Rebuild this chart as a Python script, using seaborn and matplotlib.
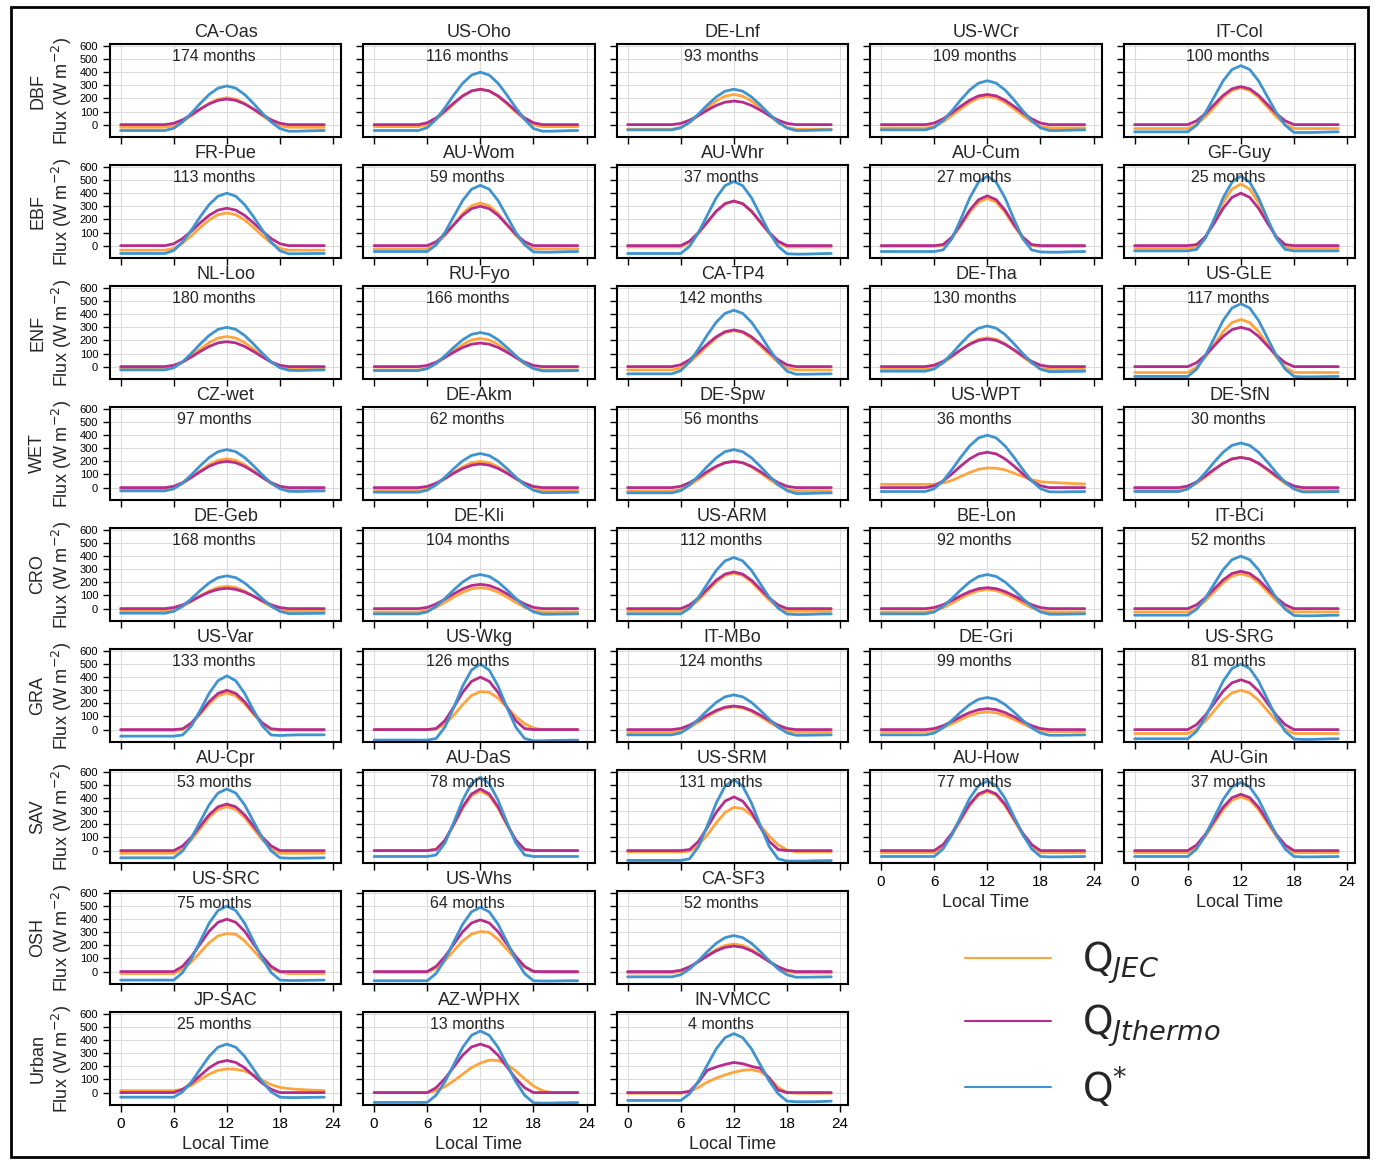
import matplotlib
matplotlib.use("Agg")
import matplotlib.pyplot as plt
import seaborn as sns
from matplotlib.lines import Line2D
from matplotlib.patches import Rectangle

sns.set_style("ticks")
plt.rcParams['font.family'] = ['Liberation Sans', 'DejaVu Sans']
plt.rcParams['mathtext.fontset'] = 'dejavusans'

# ---------------- data ----------------
hours = list(range(24))

classes = ["DBF", "EBF", "ENF", "WET", "CRO", "GRA", "SAV", "OSH", "Urban"]

sites = [
    ["CA-Oas", "US-Oho", "DE-Lnf", "US-WCr", "IT-Col"],
    ["FR-Pue", "AU-Wom", "AU-Whr", "AU-Cum", "GF-Guy"],
    ["NL-Loo", "RU-Fyo", "CA-TP4", "DE-Tha", "US-GLE"],
    ["CZ-wet", "DE-Akm", "DE-Spw", "US-WPT", "DE-SfN"],
    ["DE-Geb", "DE-Kli", "US-ARM", "BE-Lon", "IT-BCi"],
    ["US-Var", "US-Wkg", "IT-MBo", "DE-Gri", "US-SRG"],
    ["AU-Cpr", "AU-DaS", "US-SRM", "AU-How", "AU-Gin"],
    ["US-SRC", "US-Whs", "CA-SF3"],
    ["JP-SAC", "AZ-WPHX", "IN-VMCC"],
]

months = [
    [174, 116, 93, 109, 100],
    [113, 59, 37, 27, 25],
    [180, 166, 142, 130, 117],
    [97, 62, 56, 36, 30],
    [168, 104, 112, 92, 52],
    [133, 126, 124, 99, 81],
    [53, 78, 131, 77, 37],
    [75, 64, 52],
    [25, 13, 4],
]

# mean diurnal cycles (W m-2), hours 0..23
q_star = {
    "CA-Oas": [-45, -45, -45, -45, -45, -45, -28, 20, 88, 162, 230, 278, 295, 278, 230, 162, 88, 20, -30, -50, -50, -48, -46, -45],
    "US-Oho": [-45, -45, -45, -45, -45, -45, -23, 40, 129, 226, 315, 378, 400, 378, 315, 226, 129, 40, -30, -50, -50, -48, -46, -45],
    "DE-Lnf": [-40, -40, -40, -40, -40, -40, -24, 19, 81, 149, 211, 255, 270, 255, 211, 149, 81, 19, -26, -45, -45, -43, -41, -40],
    "US-WCr": [-40, -40, -40, -40, -40, -40, -21, 31, 106, 189, 264, 316, 335, 316, 264, 189, 106, 31, -25, -45, -45, -43, -41, -40],
    "IT-Col": [-55, -55, -55, -55, -55, -55, -55, -4, 91, 213, 334, 420, 450, 420, 334, 213, 91, -4, -60, -60, -60, -58, -56, -55],
    "FR-Pue": [-60, -60, -60, -60, -60, -60, -37, 27, 119, 221, 313, 377, 400, 377, 313, 221, 119, 27, -40, -62, -62, -61, -60, -60],
    "AU-Wom": [-45, -45, -45, -45, -45, -45, -45, 6, 101, 223, 344, 430, 460, 430, 344, 223, 101, 6, -48, -50, -50, -48, -46, -45],
    "AU-Whr": [-60, -60, -60, -60, -60, -60, -60, -5, 100, 232, 364, 457, 490, 457, 364, 232, 100, -5, -62, -65, -65, -63, -61, -60],
    "AU-Cum": [-45, -45, -45, -45, -45, -45, -45, -33, 53, 202, 363, 484, 530, 484, 363, 202, 53, -33, -48, -50, -50, -48, -46, -45],
    "GF-Guy": [-40, -40, -40, -40, -40, -40, -40, -29, 57, 205, 365, 484, 530, 484, 365, 205, 57, -29, -40, -40, -40, -40, -40, -40],
    "NL-Loo": [-25, -25, -25, -25, -25, -25, -9, 37, 102, 173, 238, 284, 300, 284, 238, 173, 102, 37, -9, -28, -30, -28, -26, -25],
    "RU-Fyo": [-30, -30, -30, -30, -30, -30, -15, 25, 83, 147, 205, 246, 260, 246, 205, 147, 83, 25, -15, -32, -33, -32, -31, -30],
    "CA-TP4": [-55, -55, -55, -55, -55, -55, -31, 37, 134, 241, 338, 406, 430, 406, 338, 241, 134, 37, -35, -58, -58, -57, -56, -55],
    "DE-Tha": [-35, -35, -35, -35, -35, -35, -18, 31, 100, 175, 244, 293, 310, 293, 244, 175, 100, 31, -20, -38, -38, -37, -36, -35],
    "US-GLE": [-75, -75, -75, -75, -75, -75, -75, -19, 86, 219, 352, 447, 480, 447, 352, 219, 86, -19, -75, -78, -78, -77, -76, -75],
    "CZ-wet": [-25, -25, -25, -25, -25, -25, -9, 35, 98, 167, 230, 274, 290, 274, 230, 167, 98, 35, -9, -28, -30, -28, -26, -25],
    "DE-Akm": [-35, -35, -35, -35, -35, -35, -20, 21, 80, 145, 204, 245, 260, 245, 204, 145, 80, 21, -20, -38, -38, -37, -36, -35],
    "DE-Spw": [-40, -40, -40, -40, -40, -40, -23, 23, 89, 161, 227, 274, 290, 274, 227, 161, 89, 23, -23, -45, -45, -43, -41, -40],
    "US-WPT": [-30, -30, -30, -30, -30, -30, -8, 52, 138, 232, 318, 379, 400, 379, 318, 232, 138, 52, -8, -32, -33, -32, -31, -30],
    "DE-SfN": [-30, -30, -30, -30, -30, -30, -11, 40, 114, 196, 270, 322, 340, 322, 270, 196, 114, 40, -11, -33, -33, -32, -31, -30],
    "DE-Geb": [-35, -35, -35, -35, -35, -35, -21, 19, 76, 139, 196, 236, 250, 236, 196, 139, 76, 19, -21, -38, -38, -37, -36, -35],
    "DE-Kli": [-40, -40, -40, -40, -40, -40, -25, 17, 77, 143, 203, 245, 260, 245, 203, 143, 77, 17, -25, -43, -43, -42, -41, -40],
    "US-ARM": [-40, -40, -40, -40, -40, -40, -40, 3, 85, 188, 291, 364, 390, 364, 291, 188, 85, 3, -42, -45, -45, -43, -41, -40],
    "BE-Lon": [-40, -40, -40, -40, -40, -40, -25, 17, 77, 143, 203, 245, 260, 245, 203, 143, 77, 17, -25, -43, -43, -42, -41, -40],
    "IT-BCi": [-50, -50, -50, -50, -50, -50, -50, -5, 81, 189, 297, 373, 400, 373, 297, 189, 81, -5, -52, -55, -55, -53, -51, -50],
    "US-Var": [-50, -50, -50, -50, -50, -50, -50, -41, 28, 148, 277, 373, 410, 373, 277, 148, 28, -41, -45, -42, -40, -40, -40, -40],
    "US-Wkg": [-80, -80, -80, -80, -80, -80, -80, -68, 19, 169, 332, 454, 500, 454, 332, 169, 19, -68, -85, -85, -83, -82, -81, -80],
    "IT-MBo": [-40, -40, -40, -40, -40, -40, -25, 18, 79, 146, 207, 250, 265, 250, 207, 146, 79, 18, -25, -43, -43, -42, -41, -40],
    "DE-Gri": [-40, -40, -40, -40, -40, -40, -26, 14, 71, 134, 191, 231, 245, 231, 191, 134, 71, 14, -26, -43, -43, -42, -41, -40],
    "US-SRG": [-70, -70, -70, -70, -70, -70, -70, -13, 95, 232, 369, 466, 500, 466, 369, 232, 95, -13, -72, -75, -75, -73, -71, -70],
    "AU-Cpr": [-55, -55, -55, -55, -55, -55, -55, -2, 97, 223, 349, 439, 470, 439, 349, 223, 97, -2, -55, -58, -58, -57, -56, -55],
    "AU-DaS": [-45, -45, -45, -45, -45, -45, -45, -33, 58, 215, 385, 512, 560, 512, 385, 215, 58, -33, -45, -45, -45, -45, -45, -45],
    "US-SRM": [-75, -75, -75, -75, -75, -75, -75, -63, 30, 189, 362, 491, 540, 491, 362, 189, 30, -63, -80, -80, -80, -78, -77, -76],
    "AU-How": [-45, -45, -45, -45, -45, -45, -45, 13, 122, 260, 398, 496, 530, 496, 398, 260, 122, 13, -45, -48, -48, -47, -46, -45],
    "AU-Gin": [-45, -45, -45, -45, -45, -45, -45, 12, 119, 254, 390, 486, 520, 486, 390, 254, 119, 12, -45, -48, -48, -47, -46, -45],
    "US-SRC": [-65, -65, -65, -65, -65, -65, -65, -8, 99, 234, 370, 466, 500, 466, 370, 234, 99, -8, -65, -68, -68, -67, -66, -65],
    "US-Whs": [-70, -70, -70, -70, -70, -70, -70, -14, 92, 227, 361, 456, 490, 456, 361, 227, 92, -14, -70, -72, -72, -71, -70, -70],
    "CA-SF3": [-40, -40, -40, -40, -40, -40, -24, 20, 83, 152, 215, 259, 275, 259, 215, 152, 83, 20, -24, -43, -43, -42, -41, -40],
    "JP-SAC": [-35, -35, -35, -35, -35, -35, -35, 6, 82, 180, 277, 346, 370, 346, 277, 180, 82, 6, -35, -38, -38, -37, -36, -35],
    "AZ-WPHX": [-75, -75, -75, -75, -75, -75, -75, -20, 83, 214, 345, 437, 470, 437, 345, 214, 83, -20, -78, -80, -80, -78, -77, -76],
    "IN-VMCC": [-60, -60, -60, -60, -60, -60, -60, -9, 88, 210, 333, 419, 450, 419, 333, 210, 88, -9, -65, -70, -70, -70, -68, -65],
}

q_jec = {
    "CA-Oas": [-20, -20, -20, -20, -20, -20, -9, 23, 68, 117, 162, 194, 205, 194, 162, 117, 68, 23, -9, -20, -20, -20, -20, -20],
    "US-Oho": [-15, -15, -15, -15, -15, -15, -1, 39, 96, 159, 216, 256, 270, 256, 216, 159, 96, 39, -1, -15, -15, -15, -15, -15],
    "DE-Lnf": [-35, -35, -35, -35, -35, -35, -22, 15, 68, 127, 180, 217, 230, 217, 180, 127, 68, 15, -22, -35, -35, -35, -35, -35],
    "US-WCr": [-25, -25, -25, -25, -25, -25, -13, 21, 69, 121, 169, 203, 215, 203, 169, 121, 69, 21, -13, -25, -25, -25, -25, -25],
    "IT-Col": [-30, -30, -30, -30, -30, -30, -30, 1, 60, 134, 209, 261, 280, 261, 209, 134, 60, 1, -30, -30, -30, -30, -30, -30],
    "FR-Pue": [-35, -35, -35, -35, -35, -35, -21, 19, 76, 139, 196, 236, 250, 236, 196, 139, 76, 19, -21, -35, -35, -35, -35, -35],
    "AU-Wom": [-25, -25, -25, -25, -25, -25, -25, 10, 77, 161, 245, 304, 325, 304, 245, 161, 77, 10, -25, -25, -25, -25, -25, -25],
    "AU-Whr": [-10, -10, -10, -10, -10, -10, -10, 25, 92, 176, 260, 319, 340, 319, 260, 176, 92, 25, -10, -10, -10, -10, -10, -10],
    "AU-Cum": [-5, -5, -5, -5, -5, -5, -5, 2, 57, 152, 254, 331, 360, 331, 254, 152, 57, 2, -5, -5, -5, -5, -5, -5],
    "GF-Guy": [-20, -20, -20, -20, -20, -20, -20, -10, 63, 191, 328, 431, 470, 431, 328, 191, 63, -10, -20, -20, -20, -20, -20, -20],
    "NL-Loo": [-15, -15, -15, -15, -15, -15, -3, 32, 81, 134, 183, 218, 230, 218, 183, 134, 81, 32, -3, -15, -15, -15, -15, -15],
    "RU-Fyo": [-25, -25, -25, -25, -25, -25, -13, 21, 69, 121, 169, 203, 215, 203, 169, 121, 69, 21, -13, -25, -25, -25, -25, -25],
    "CA-TP4": [-25, -25, -25, -25, -25, -25, -10, 32, 92, 158, 218, 260, 275, 260, 218, 158, 92, 32, -10, -25, -25, -25, -25, -25],
    "DE-Tha": [-20, -20, -20, -20, -20, -20, -8, 26, 74, 126, 174, 208, 220, 208, 174, 126, 74, 26, -8, -20, -20, -20, -20, -20],
    "US-GLE": [-45, -45, -45, -45, -45, -45, -45, -4, 72, 170, 267, 336, 360, 336, 267, 170, 72, -4, -45, -45, -45, -45, -45, -45],
    "CZ-wet": [-15, -15, -15, -15, -15, -15, -3, 30, 77, 128, 175, 208, 220, 208, 175, 128, 77, 30, -3, -15, -15, -15, -15, -15],
    "DE-Akm": [-20, -20, -20, -20, -20, -20, -9, 22, 66, 114, 158, 189, 200, 189, 158, 114, 66, 22, -9, -20, -20, -20, -20, -20],
    "DE-Spw": [-25, -25, -25, -25, -25, -25, -14, 18, 63, 112, 157, 189, 200, 189, 157, 112, 63, 18, -14, -25, -25, -25, -25, -25],
    "US-WPT": [25, 25, 25, 25, 25, 25, 25, 35, 55, 85, 115, 140, 150, 148, 135, 110, 85, 60, 45, 40, 37, 33, 30, 28],
    "DE-SfN": [-15, -15, -15, -15, -15, -15, -3, 32, 81, 134, 183, 218, 230, 218, 183, 134, 81, 32, -3, -15, -15, -15, -15, -15],
    "DE-Geb": [-20, -20, -20, -20, -20, -20, -10, 16, 54, 96, 134, 161, 170, 161, 134, 96, 54, 16, -10, -20, -20, -20, -20, -20],
    "DE-Kli": [-25, -25, -25, -25, -25, -25, -16, 10, 47, 88, 125, 151, 160, 151, 125, 88, 47, 10, -16, -25, -25, -25, -25, -25],
    "US-ARM": [-20, -20, -20, -20, -20, -20, -20, 9, 64, 134, 203, 253, 270, 253, 203, 134, 64, 9, -20, -20, -20, -20, -20, -20],
    "BE-Lon": [-25, -25, -25, -25, -25, -25, -16, 7, 41, 79, 113, 137, 145, 137, 113, 79, 41, 7, -16, -25, -25, -25, -25, -25],
    "IT-BCi": [-25, -25, -25, -25, -25, -25, -25, 4, 59, 129, 198, 248, 265, 248, 198, 129, 59, 4, -25, -25, -25, -25, -25, -25],
    "US-Var": [-5, -5, -5, -5, -5, -5, -5, 1, 43, 118, 197, 257, 280, 257, 197, 118, 43, 1, -5, -5, -5, -5, -5, -5],
    "US-Wkg": [0, 0, 0, 0, 0, 0, 0, 5, 40, 110, 190, 260, 290, 285, 240, 170, 100, 45, 12, 0, 0, 0, 0, 0],
    "IT-MBo": [-20, -20, -20, -20, -20, -20, -10, 17, 56, 99, 138, 165, 175, 165, 138, 99, 56, 17, -10, -20, -20, -20, -20, -20],
    "DE-Gri": [-15, -15, -15, -15, -15, -15, -7, 14, 44, 77, 107, 128, 135, 128, 107, 77, 44, 14, -7, -15, -15, -15, -15, -15],
    "US-SRG": [-30, -30, -30, -30, -30, -30, -30, 3, 66, 145, 224, 280, 300, 280, 224, 145, 66, 3, -30, -30, -30, -30, -30, -30],
    "AU-Cpr": [-20, -20, -20, -20, -20, -20, -20, 16, 83, 168, 253, 314, 335, 314, 253, 168, 83, 16, -20, -20, -20, -20, -20, -20],
    "AU-DaS": [0, 0, 0, 0, 0, 0, 0, 9, 77, 196, 323, 419, 455, 419, 323, 196, 77, 9, 0, 0, 0, 0, 0, 0],
    "US-SRM": [-10, -10, -10, -10, -10, -10, -10, -5, 40, 120, 210, 290, 330, 320, 270, 190, 110, 45, 5, -10, -10, -10, -10, -10],
    "AU-How": [-15, -15, -15, -15, -15, -15, -15, 32, 120, 231, 343, 422, 450, 422, 343, 231, 120, 32, -15, -15, -15, -15, -15, -15],
    "AU-Gin": [-15, -15, -15, -15, -15, -15, -15, 28, 108, 210, 312, 385, 410, 385, 312, 210, 108, 28, -15, -15, -15, -15, -15, -15],
    "US-SRC": [-15, -15, -15, -15, -15, -15, -15, 16, 73, 147, 220, 272, 290, 285, 235, 160, 85, 25, -5, -15, -15, -15, -15, -15],
    "US-Whs": [-5, -5, -5, -5, -5, -5, -5, 26, 85, 159, 234, 286, 305, 300, 245, 170, 95, 35, 5, -5, -5, -5, -5, -5],
    "CA-SF3": [-10, -10, -10, -10, -10, -10, 1, 32, 76, 124, 168, 199, 210, 199, 168, 124, 76, 32, 1, -10, -10, -10, -10, -10],
    "JP-SAC": [15, 15, 15, 15, 15, 15, 15, 25, 55, 100, 140, 170, 180, 178, 165, 135, 95, 60, 40, 30, 25, 20, 18, 15],
    "AZ-WPHX": [0, 0, 0, 0, 0, 0, 0, 15, 45, 90, 140, 190, 225, 248, 245, 215, 165, 105, 50, 15, 0, 0, 0, 0],
    "IN-VMCC": [-5, -5, -5, -5, -5, -5, -5, 5, 40, 80, 110, 135, 155, 170, 175, 160, 110, 40, 0, -5, -5, -5, -5, -5],
}

q_thermo = {
    "CA-Oas": [0, 0, 0, 0, 0, 0, 10, 37, 76, 119, 158, 185, 195, 185, 158, 119, 76, 37, 10, 0, 0, 0, 0, 0],
    "US-Oho": [0, 0, 0, 0, 0, 0, 14, 51, 105, 165, 219, 257, 270, 257, 219, 165, 105, 51, 14, 0, 0, 0, 0, 0],
    "DE-Lnf": [0, 0, 0, 0, 0, 0, 9, 34, 70, 110, 146, 171, 180, 171, 146, 110, 70, 34, 9, 0, 0, 0, 0, 0],
    "US-WCr": [0, 0, 0, 0, 0, 0, 12, 44, 90, 140, 186, 219, 230, 219, 186, 140, 90, 44, 12, 0, 0, 0, 0, 0],
    "IT-Col": [0, 0, 0, 0, 0, 0, 0, 29, 84, 154, 223, 273, 290, 273, 223, 154, 84, 29, 0, 0, 0, 0, 0, 0],
    "FR-Pue": [0, 0, 0, 0, 0, 0, 14, 54, 111, 174, 231, 271, 285, 271, 231, 174, 111, 54, 14, 0, 0, 0, 0, 0],
    "AU-Wom": [0, 0, 0, 0, 0, 0, 0, 30, 87, 159, 231, 282, 300, 282, 231, 159, 87, 30, 0, 0, 0, 0, 0, 0],
    "AU-Whr": [0, 0, 0, 0, 0, 0, 0, 34, 99, 180, 262, 320, 340, 320, 262, 180, 99, 34, 0, 0, 0, 0, 0, 0],
    "AU-Cum": [0, 0, 0, 0, 0, 0, 0, 8, 65, 163, 270, 350, 380, 350, 270, 163, 65, 8, 0, 0, 0, 0, 0, 0],
    "GF-Guy": [0, 0, 0, 0, 0, 0, 0, 8, 68, 172, 284, 368, 400, 368, 284, 172, 68, 8, 0, 0, 0, 0, 0, 0],
    "NL-Loo": [0, 0, 0, 0, 0, 0, 10, 36, 74, 116, 154, 181, 190, 181, 154, 116, 74, 36, 10, 0, 0, 0, 0, 0],
    "RU-Fyo": [0, 0, 0, 0, 0, 0, 9, 34, 70, 110, 146, 171, 180, 171, 146, 110, 70, 34, 9, 0, 0, 0, 0, 0],
    "CA-TP4": [0, 0, 0, 0, 0, 0, 14, 53, 109, 171, 227, 266, 280, 266, 227, 171, 109, 53, 14, 0, 0, 0, 0, 0],
    "DE-Tha": [0, 0, 0, 0, 0, 0, 11, 40, 82, 128, 170, 200, 210, 200, 170, 128, 82, 40, 11, 0, 0, 0, 0, 0],
    "US-GLE": [0, 0, 0, 0, 0, 0, 0, 30, 87, 159, 231, 282, 300, 282, 231, 159, 87, 30, 0, 0, 0, 0, 0, 0],
    "CZ-wet": [0, 0, 0, 0, 0, 0, 10, 38, 78, 122, 162, 190, 200, 190, 162, 122, 78, 38, 10, 0, 0, 0, 0, 0],
    "DE-Akm": [0, 0, 0, 0, 0, 0, 9, 34, 70, 110, 146, 171, 180, 171, 146, 110, 70, 34, 9, 0, 0, 0, 0, 0],
    "DE-Spw": [0, 0, 0, 0, 0, 0, 10, 38, 78, 122, 162, 190, 200, 190, 162, 122, 78, 38, 10, 0, 0, 0, 0, 0],
    "US-WPT": [0, 0, 0, 0, 0, 0, 14, 51, 105, 165, 219, 257, 270, 257, 219, 165, 105, 51, 14, 0, 0, 0, 0, 0],
    "DE-SfN": [0, 0, 0, 0, 0, 0, 12, 44, 90, 140, 186, 219, 230, 219, 186, 140, 90, 44, 12, 0, 0, 0, 0, 0],
    "DE-Geb": [0, 0, 0, 0, 0, 0, 8, 29, 60, 95, 126, 147, 155, 147, 126, 95, 60, 29, 8, 0, 0, 0, 0, 0],
    "DE-Kli": [0, 0, 0, 0, 0, 0, 9, 35, 72, 113, 150, 176, 185, 176, 150, 113, 72, 35, 9, 0, 0, 0, 0, 0],
    "US-ARM": [0, 0, 0, 0, 0, 0, 0, 28, 81, 148, 216, 263, 280, 263, 216, 148, 81, 28, 0, 0, 0, 0, 0, 0],
    "BE-Lon": [0, 0, 0, 0, 0, 0, 8, 30, 62, 98, 130, 152, 160, 152, 130, 98, 62, 30, 8, 0, 0, 0, 0, 0],
    "IT-BCi": [0, 0, 0, 0, 0, 0, 0, 29, 83, 151, 219, 268, 285, 268, 219, 151, 83, 29, 0, 0, 0, 0, 0, 0],
    "US-Var": [0, 0, 0, 0, 0, 0, 0, 6, 51, 129, 213, 276, 300, 276, 213, 129, 51, 6, 0, 0, 0, 0, 0, 0],
    "US-Wkg": [0, 0, 0, 0, 0, 0, 0, 8, 68, 172, 284, 368, 400, 368, 284, 172, 68, 8, 0, 0, 0, 0, 0, 0],
    "IT-MBo": [0, 0, 0, 0, 0, 0, 9, 34, 70, 110, 146, 171, 180, 171, 146, 110, 70, 34, 9, 0, 0, 0, 0, 0],
    "DE-Gri": [0, 0, 0, 0, 0, 0, 8, 30, 62, 98, 130, 152, 160, 152, 130, 98, 62, 30, 8, 0, 0, 0, 0, 0],
    "US-SRG": [0, 0, 0, 0, 0, 0, 0, 38, 110, 201, 293, 357, 380, 357, 293, 201, 110, 38, 0, 0, 0, 0, 0, 0],
    "AU-Cpr": [0, 0, 0, 0, 0, 0, 0, 36, 103, 188, 273, 334, 355, 334, 273, 188, 103, 36, 0, 0, 0, 0, 0, 0],
    "AU-DaS": [0, 0, 0, 0, 0, 0, 0, 9, 80, 202, 334, 432, 470, 432, 334, 202, 80, 9, 0, 0, 0, 0, 0, 0],
    "US-SRM": [0, 0, 0, 0, 0, 0, 0, 8, 70, 176, 291, 377, 410, 377, 291, 176, 70, 8, 0, 0, 0, 0, 0, 0],
    "AU-How": [0, 0, 0, 0, 0, 0, 0, 46, 133, 244, 354, 432, 460, 432, 354, 244, 133, 46, 0, 0, 0, 0, 0, 0],
    "AU-Gin": [0, 0, 0, 0, 0, 0, 0, 43, 125, 228, 331, 404, 430, 404, 331, 228, 125, 43, 0, 0, 0, 0, 0, 0],
    "US-SRC": [0, 0, 0, 0, 0, 0, 0, 40, 116, 212, 308, 376, 400, 376, 308, 212, 116, 40, 0, 0, 0, 0, 0, 0],
    "US-Whs": [0, 0, 0, 0, 0, 0, 0, 40, 115, 209, 304, 371, 395, 371, 304, 209, 115, 40, 0, 0, 0, 0, 0, 0],
    "CA-SF3": [0, 0, 0, 0, 0, 0, 10, 37, 76, 119, 158, 185, 195, 185, 158, 119, 76, 37, 10, 0, 0, 0, 0, 0],
    "JP-SAC": [0, 0, 0, 0, 0, 0, 0, 25, 71, 130, 189, 230, 245, 230, 189, 130, 71, 25, 0, 0, 0, 0, 0, 0],
    "AZ-WPHX": [0, 0, 0, 0, 0, 0, 0, 37, 107, 196, 285, 348, 370, 348, 285, 196, 107, 37, 0, 0, 0, 0, 0, 0],
    "IN-VMCC": [0, 0, 0, 0, 0, 0, 0, 10, 80, 170, 195, 215, 230, 220, 200, 185, 110, 20, 0, 0, 0, 0, 0, 0],
}

c_jec = "#ffa53f"
c_thermo = "#b52d8c"
c_star = "#3f93cf"

# ---------------- figure ----------------
fig, axes = plt.subplots(9, 5, figsize=(13.75, 11.61), dpi=100)
fig.subplots_adjust(left=0.08, right=0.9855, top=0.9621, bottom=0.0482,
                    wspace=0.097, hspace=0.30)

for r, cls in enumerate(classes):
    for c in range(5):
        ax = axes[r, c]
        if c >= len(sites[r]):
            ax.remove()
            continue
        site = sites[r][c]
        sns.lineplot(x=hours, y=q_jec[site], ax=ax, color=c_jec, lw=2)
        sns.lineplot(x=hours, y=q_thermo[site], ax=ax, color=c_thermo, lw=2)
        sns.lineplot(x=hours, y=q_star[site], ax=ax, color=c_star, lw=2)

        ax.set_xlim(-1.2, 24.9)
        ax.set_ylim(-95, 615)
        ax.set_xticks([0, 6, 12, 18, 24])
        ax.set_yticks(range(0, 601, 100))
        ax.grid(True, color='#dcdcdc', lw=0.8)
        ax.set_axisbelow(True)
        for sp in ax.spines.values():
            sp.set_color('black')
            sp.set_linewidth(1.5)
        ax.tick_params(length=5, width=1, labelsize=8, colors='black')

        ax.set_title(site, fontsize=13, pad=5)
        ax.text(0.45, 0.95, f"{months[r][c]} months", transform=ax.transAxes,
                ha='center', va='top', fontsize=11.5)

        is_bottom = (r == len(classes) - 1) or (c >= len(sites[r + 1]))
        ax.tick_params(axis='x', labelbottom=is_bottom, labelsize=11)
        if is_bottom:
            ax.set_xlabel("Local Time", fontsize=13)
        else:
            ax.set_xlabel("")

        if c == 0:
            ax.set_ylabel(f"{cls}\nFlux (W m$^{{-2}}$)", fontsize=13, labelpad=4)
        else:
            ax.set_ylabel("")
            ax.tick_params(axis='y', labelleft=False)

handles = [Line2D([], [], color=c_jec, lw=1.5),
           Line2D([], [], color=c_thermo, lw=1.5),
           Line2D([], [], color=c_star, lw=1.5)]
labels = ["Q$_{JEC}$", "Q$_{Jthermo}$", "Q$^{*}$"]
fig.legend(handles, labels, loc='center', bbox_to_anchor=(0.795, 0.118),
           frameon=False, prop={'family': 'DejaVu Sans', 'size': 28},
           handlelength=2.2, handletextpad=0.8, labelspacing=0.42)

fig.patches.append(Rectangle((0.008, 0.0034), 0.987, 0.9906, transform=fig.transFigure,
                             fill=False, edgecolor='black', linewidth=2))

fig.savefig("out.png", dpi=100)
